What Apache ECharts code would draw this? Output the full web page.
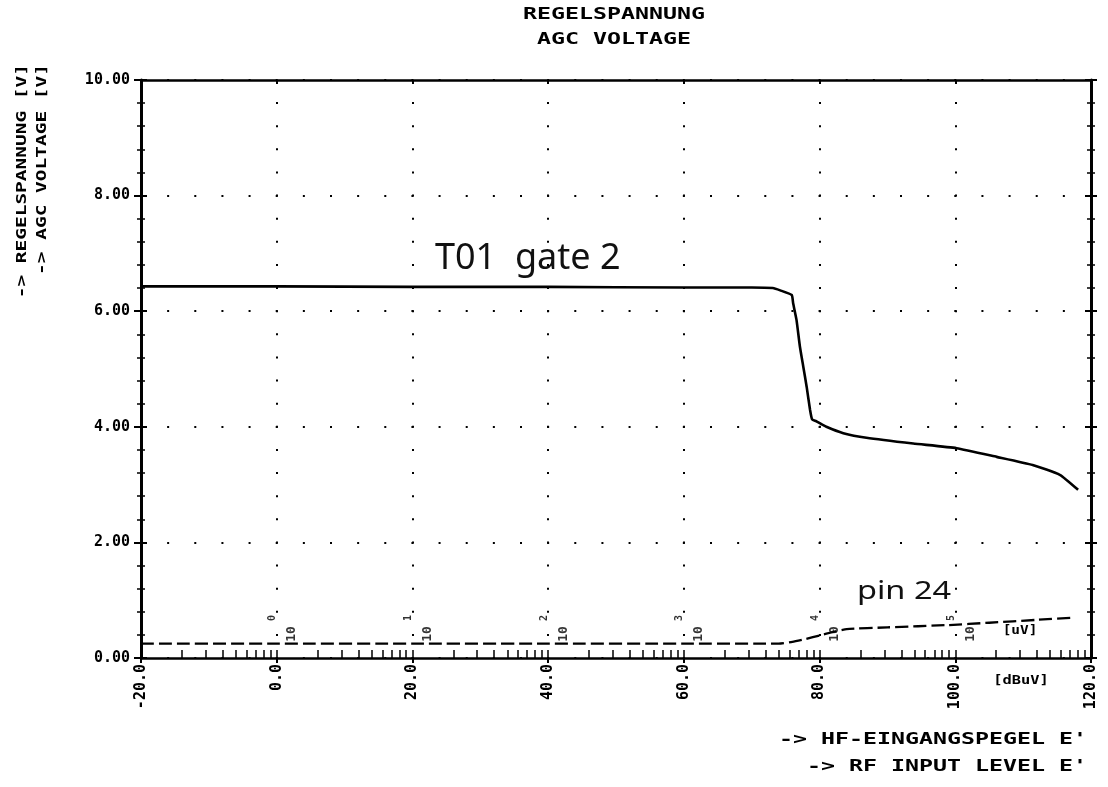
<!DOCTYPE html>
<html>
<head>
<meta charset="utf-8">
<title>Regelspannung / AGC voltage</title>
<script src="https://cdn.jsdelivr.net/npm/echarts@6/dist/echarts.min.js"></script>
<style>
  html, body { margin: 0; padding: 0; background: #fff; }
  #chart { width: 1108px; height: 787px; }
</style>
</head>
<body>
<div id="chart"></div>
<script>
// RF input level in dBuV (x) against AGC voltage in V (y)
const gate2X = [-20, 0, 20, 40, 60, 70, 73.1, 74.2, 75.9, 76.1, 76.6, 77.1, 77.6, 78.1, 78.6, 78.9, 79.6, 81.0, 83.5, 86.9, 93.8, 100.2, 106.1, 111.4, 115.4, 118.1];
const gate2Y = [6.43, 6.43, 6.42, 6.42, 6.41, 6.41, 6.40, 6.36, 6.28, 6.14, 5.85, 5.39, 5.04, 4.69, 4.29, 4.13, 4.09, 4.00, 3.89, 3.81, 3.71, 3.63, 3.48, 3.34, 3.17, 2.91];

const pin24X = [-20, 0, 20, 40, 60, 74, 76, 78, 80, 82, 84, 90, 99, 105, 112, 117.6];
const pin24Y = [0.25, 0.25, 0.25, 0.25, 0.25, 0.25, 0.28, 0.33, 0.39, 0.45, 0.50, 0.53, 0.57, 0.61, 0.66, 0.70];

// secondary scale: decades of uV (0 dBuV = 1 uV)
const uvDecades = [0, 20, 40, 60, 80, 100];
const uvExponents = ['0', '1', '2', '3', '4', '5'];
const logMultipliers = [1, 2, 3, 4, 5, 6, 7, 8, 9];
const dbDecadeStarts = [-20, 0, 20, 40, 60, 80, 100, 120];

// axis ranges
const xMin = -20, xMax = 120, xStep = 20;
const yMin = 0, yMax = 10, yStep = 2;

const logTicks = [];
dbDecadeStarts.forEach(d => logMultipliers.forEach(m => {
  const v = d + 20 * Math.log10(m);
  if (v <= xMax + 1e-9) logTicks.push(+v.toFixed(3));
}));

const gate2Data = gate2X.map((x, i) => [x, gate2Y[i]]);
const pin24Data = pin24X.map((x, i) => [x, pin24Y[i]]);

const INK = '#000';
const MONO = '"DejaVu Sans Mono", monospace';
const HAND = '"Noto Sans", sans-serif';

const grid = { left: 141, right: 17, top: 80, bottom: 129 };
const plotW = 1108 - grid.left - grid.right;
const plotH = 787 - grid.top - grid.bottom;
const hDot = plotW / ((xMax - xMin) / 4);   // dot every 4 dB
const vDot = plotH / ((yMax - yMin) / 0.4); // dot every 0.4 V

const chart = echarts.init(document.getElementById('chart'), null, { renderer: 'canvas' });

// plotter-style caption: monospace bold, stretched horizontally
function caption(text, x, y, align, size, scaleX, rotation) {
  return {
    type: 'text', x: x, y: y, silent: true,
    scaleX: scaleX, rotation: rotation || 0,
    style: {
      text: text, fill: INK,
      font: 'bold ' + size + 'px ' + MONO,
      textAlign: align, textVerticalAlign: 'middle'
    }
  };
}

const tickLine = w => ({ color: INK, width: w });

function overlayY(position, inside, withLine) {
  return {
    type: 'value', min: yMin, max: yMax, interval: yStep, position: position,
    axisLine: { show: withLine, onZero: false, lineStyle: tickLine(3) },
    axisTick: { show: true, inside: inside, length: 6, lineStyle: tickLine(2) },
    minorTick: { show: true, splitNumber: 5, length: 4, lineStyle: tickLine(1.5) },
    axisLabel: { show: false },
    splitLine: { show: false }
  };
}

chart.setOption({
  animation: false,
  backgroundColor: '#fff',
  grid: grid,
  xAxis: [
    {
      type: 'value', min: xMin, max: xMax, interval: xStep, position: 'bottom',
      axisLine: { onZero: false, lineStyle: tickLine(2.5) },
      axisTick: { show: true, inside: false, length: 5, lineStyle: tickLine(2) },
      axisLabel: {
        rotate: 90, margin: 6, color: INK,
        fontFamily: MONO, fontWeight: 'bold', fontSize: 15,
        formatter: v => v.toFixed(1)
      },
      splitLine: { show: true, lineStyle: { color: INK, width: 2, type: [2, vDot - 2], dashOffset: 1 } }
    },
    {
      type: 'value', min: xMin, max: xMax, position: 'bottom',
      axisLine: { show: false, onZero: false },
      axisTick: { show: true, inside: true, length: 8, customValues: logTicks, lineStyle: tickLine(1.5) },
      axisLabel: { show: false },
      splitLine: { show: false }
    },
    {
      type: 'value', min: xMin, max: xMax, interval: xStep, position: 'top',
      axisLine: { onZero: false, lineStyle: tickLine(2.5) },
      axisTick: { show: true, inside: true, length: 4, lineStyle: tickLine(2) },
      axisLabel: { show: false },
      splitLine: { show: false }
    }
  ],
  yAxis: [
    {
      type: 'value', min: yMin, max: yMax, interval: yStep, position: 'left',
      axisLine: { show: true, onZero: false, lineStyle: tickLine(3) },
      axisTick: { show: true, inside: false, length: 7, lineStyle: tickLine(2) },
      minorTick: { show: true, splitNumber: 5, length: 4, lineStyle: tickLine(1.5) },
      axisLabel: {
        margin: 11, color: INK,
        fontFamily: MONO, fontWeight: 'bold', fontSize: 15,
        formatter: v => v.toFixed(2)
      },
      splitLine: { show: true, lineStyle: { color: INK, width: 2, type: [2, hDot - 2], dashOffset: 1 } }
    },
    overlayY('left', true, false),
    overlayY('right', true, true),
    overlayY('right', false, false)
  ],
  series: [
    {
      name: 'T01 gate 2', type: 'line', data: gate2Data,
      xAxisIndex: 0, yAxisIndex: 0,
      showSymbol: false, smooth: 0.15, z: 5,
      lineStyle: { color: INK, width: 2.6 }
    },
    {
      name: 'pin 24', type: 'line', data: pin24Data,
      xAxisIndex: 0, yAxisIndex: 0,
      showSymbol: false, smooth: 0.15, z: 5,
      lineStyle: { color: INK, width: 2.3, type: [13, 5] }
    },
    {
      // "10" mantissa of the uV decade scale (offset is in the rotated label frame)
      name: 'uV mantissa', type: 'scatter', symbolSize: 0, silent: true,
      xAxisIndex: 0, yAxisIndex: 0,
      data: uvDecades.map(x => [x, 0]),
      label: {
        show: true, position: 'inside', rotate: 90, offset: [24, 15],
        formatter: '10', color: INK,
        fontFamily: MONO, fontWeight: 'bold', fontSize: 13
      }
    },
    {
      // exponent of the uV decade scale
      name: 'uV exponent', type: 'scatter', symbolSize: 0, silent: true,
      xAxisIndex: 0, yAxisIndex: 0,
      data: uvDecades.map((x, i) => ({ value: [x, 0], exp: uvExponents[i] })),
      label: {
        show: true, position: 'inside', rotate: 90, offset: [40, -4],
        formatter: p => p.data.exp, color: INK,
        fontFamily: MONO, fontWeight: 'bold', fontSize: 10
      }
    }
  ],
  graphic: [
    caption('REGELSPANNUNG', 614, 15, 'center', 15, 1.55),
    caption('AGC VOLTAGE', 614, 40, 'center', 15, 1.55),
    caption('-> REGELSPANNUNG [V]', 22, 64, 'right', 14, 1.39, Math.PI / 2),
    caption('-> AGC VOLTAGE [V]', 42, 64, 'right', 14, 1.39, Math.PI / 2),
    caption("-> HF-EINGANGSPEGEL E'", 1087, 740, 'right', 15, 1.55),
    caption("-> RF INPUT LEVEL E'", 1087, 767, 'right', 15, 1.55),
    caption('[uV]', 1020, 631, 'center', 12, 1.2),
    caption('[dBuV]', 1021, 681, 'center', 12, 1.28),
    {
      type: 'text', x: 435, y: 259, silent: true,
      style: { text: 'T01  gate 2', fill: '#111', font: '36px ' + HAND, textAlign: 'left', textVerticalAlign: 'middle' }
    },
    {
      type: 'text', x: 857, y: 592, scaleX: 1.25, silent: true,
      style: { text: 'pin 24', fill: '#111', font: '26px ' + HAND, textAlign: 'left', textVerticalAlign: 'middle' }
    }
  ]
});
</script>
</body>
</html>
